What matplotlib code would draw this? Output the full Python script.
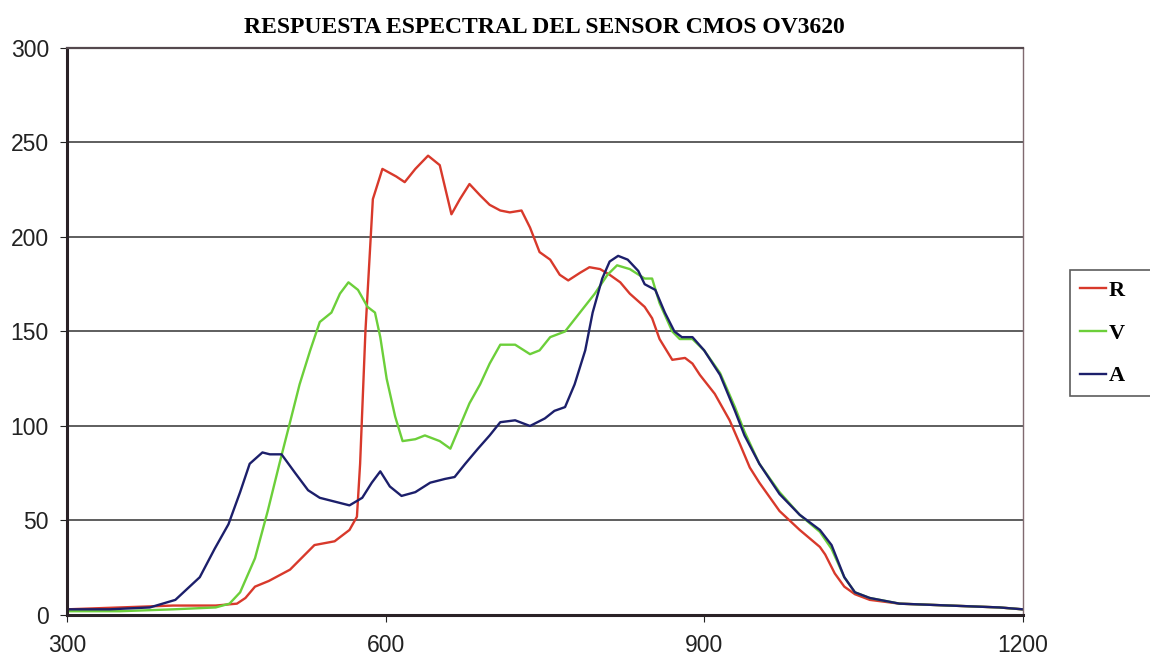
import matplotlib
matplotlib.use('Agg')
import matplotlib.pyplot as plt

# longitud de onda (nm) y respuesta de cada canal
nm_r = [300, 350, 400, 440, 460, 468, 477, 490, 510, 533, 552, 566, 573, 576, 581, 588, 597,
        610, 618, 628, 640, 651, 662, 670, 679, 689, 698, 708, 717, 728, 736, 745, 755, 764,
        772, 783, 792, 802, 811, 821, 830, 844, 851, 858, 870, 882, 889, 896, 910, 924, 934,
        943, 952, 971, 990, 1009, 1014, 1023, 1032, 1042, 1056, 1084, 1131, 1178, 1200]
val_r = [3, 4, 5, 5, 6, 9, 15, 18, 24, 37, 39, 45, 52, 80, 150, 220, 236,
         232, 229, 236, 243, 238, 212, 220, 228, 222, 217, 214, 213, 214, 205, 192, 188, 180,
         177, 181, 184, 183, 180, 176, 170, 163, 157, 146, 135, 136, 133, 127, 117, 103, 90,
         78, 70, 55, 45, 36, 32, 22, 15, 11, 8, 6, 5, 4, 3]

nm_v = [300, 350, 400, 440, 453, 463, 477, 489, 500, 510, 519, 529, 538, 549, 557, 565, 574,
        583, 590, 595, 601, 609, 616, 628, 637, 651, 661, 670, 679, 689, 698, 708, 722, 736,
        745, 755, 769, 783, 797, 809, 818, 830, 844, 851, 858, 870, 877, 889, 900, 915, 929,
        938, 952, 971, 990, 1009, 1020, 1032, 1042, 1056, 1084, 1131, 1178, 1200]
val_v = [2, 2, 3, 4, 6, 12, 30, 55, 80, 102, 122, 140, 155, 160, 170, 176, 172,
         163, 160, 147, 125, 105, 92, 93, 95, 92, 88, 100, 112, 122, 133, 143, 143, 138,
         140, 147, 150, 160, 170, 180, 185, 183, 178, 178, 165, 150, 146, 146, 140, 128, 110,
         97, 80, 65, 53, 44, 35, 20, 12, 9, 6, 5, 4, 3]

nm_a = [300, 340, 378, 402, 425, 439, 452, 463, 472, 484, 491, 502, 515, 527, 538, 552, 566,
        578, 587, 595, 604, 615, 628, 642, 656, 665, 675, 687, 698, 708, 722, 736, 750, 759,
        769, 778, 788, 795, 804, 811, 819, 828, 838, 844, 854, 863, 872, 879, 889, 900, 915,
        929, 938, 952, 971, 990, 1009, 1020, 1032, 1042, 1056, 1084, 1131, 1178, 1200]
val_a = [3, 3, 4, 8, 20, 35, 48, 65, 80, 86, 85, 85, 75, 66, 62, 60, 58,
         62, 70, 76, 68, 63, 65, 70, 72, 73, 80, 88, 95, 102, 103, 100, 104, 108,
         110, 122, 140, 160, 178, 187, 190, 188, 182, 175, 172, 160, 150, 147, 147, 140, 127,
         108, 95, 80, 64, 53, 45, 37, 20, 12, 9, 6, 5, 4, 3]

series = [('R', nm_r, val_r, '#d8392b'), ('V', nm_v, val_v, '#6ccf3a'), ('A', nm_a, val_a, '#1c1f6b')]

fig = plt.figure(figsize=(11.5, 6.64), dpi=100)
ax = fig.add_axes([0.0583, 0.0738, 0.831, 0.854])

for nombre, x, y, c in series:
    ax.plot(x, y, color=c, lw=1.7, label=nombre)

ax.set_xlim(300, 1200)
ax.set_ylim(0, 300)
ax.set_xticks([300, 600, 900, 1200])
ax.set_yticks([0, 50, 100, 150, 200, 250, 300])
ax.yaxis.grid(True, color='#333333', lw=1.1)
ax.set_axisbelow(True)
ax.tick_params(labelsize=16.5, length=5, direction='out', colors='#222222')
ax.tick_params(axis='x', pad=9)
ax.tick_params(axis='y', pad=8)
for lab in ax.get_xticklabels() + ax.get_yticklabels():
    lab.set_fontfamily('Liberation Sans')

ax.spines['left'].set_linewidth(2.2)
ax.spines['left'].set_color('#2a2226')
ax.spines['bottom'].set_linewidth(2.2)
ax.spines['bottom'].set_color('#2a2226')
ax.spines['top'].set_linewidth(1.6)
ax.spines['top'].set_color('#55494e')
ax.spines['right'].set_linewidth(1)
ax.spines['right'].set_color('#806a70')

ax.set_title('RESPUESTA ESPECTRAL DEL SENSOR CMOS OV3620', fontfamily='Liberation Serif',
             fontweight='bold', fontsize=17, pad=11)

leg = fig.legend(loc='upper left', bbox_to_anchor=(0.930, 0.405, 0.09, 0.188), mode='expand',
                 frameon=True, fancybox=False,
                 prop={'family': 'Liberation Serif', 'weight': 'bold', 'size': 16},
                 handlelength=1.2, handletextpad=0.1, labelspacing=1.0, borderpad=0.45,
                 borderaxespad=0)
leg.get_frame().set_edgecolor('#333333')
leg.get_frame().set_linewidth(1.2)

fig.savefig('out.png', dpi=100)
